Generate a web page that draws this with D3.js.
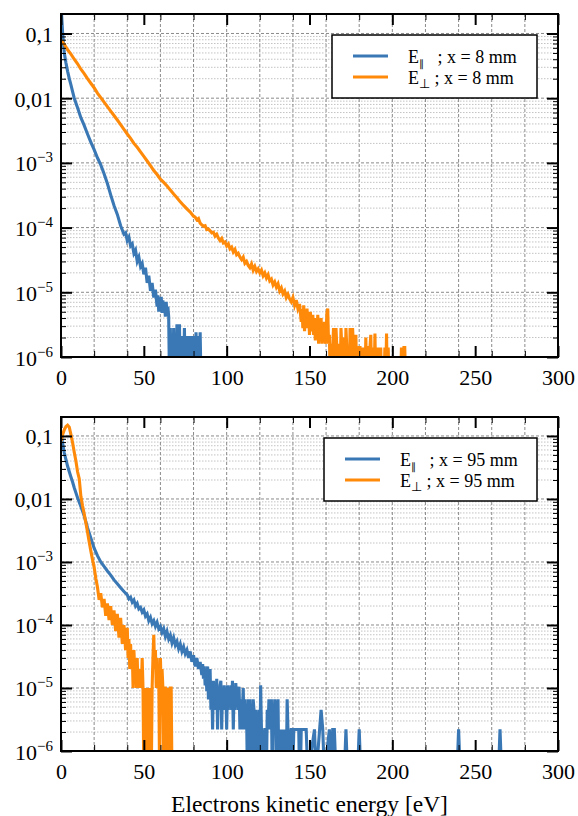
<!DOCTYPE html>
<html>
<head>
<meta charset="utf-8">
<script src="https://cdn.jsdelivr.net/npm/d3@7"></script>
<style>
  body { margin: 0; background: #fff; }
  svg text { font-family: "Liberation Serif", "Times New Roman", serif; fill: #000; }
</style>
</head>
<body>
<svg id="chart" width="578" height="816"></svg>
<script>
// ---- data ----
// energy bins [eV] and normalised distribution, x = 8 mm
const topParE = [0,1,2,3,4,5,6,7,8,10,12,14,16,18,20,22,24,26,28,30,32,34,36,38,
  39,40,41,42,43,44,45,46,47,48,49,50,51,52,53,54,55,56,57,
  58,58.5,59,59.5,60,60.5,61,61.5,62,62.5,63,63.5,64,64.5,65,65.5,66,66.5,67,67.5,68,68.5,69,69.5,
  70,70.5,71,71.5,72,72.5,73,73.5,74,74.5,75,75.5,76,76.5,77,77.5,78,78.5,79,79.5,
  80,80.5,81,81.5,82,82.5,83,83.5,84,84.5];
const topParV = [0.28,0.1,0.05,0.035,0.026,0.02,0.016,0.0126,0.01,0.0071,0.005,0.0038,0.0028,0.0021,0.0016,0.0012,9.3e-4,6.8e-4,4.8e-4,3.2e-4,2.2e-4,1.6e-4,1.07e-4,7.9e-5,
  8.3e-5,6.3e-5,7.1e-5,5.2e-5,5.6e-5,4.0e-5,4.5e-5,3.0e-5,3.5e-5,2.5e-5,2.8e-5,1.9e-5,2.4e-5,1.4e-5,1.8e-5,1.05e-5,1.4e-5,8.3e-6,1.1e-5,
  6.0e-6,9.0e-6,5.0e-6,8.0e-6,6.0e-6,8.5e-6,4.8e-6,7.5e-6,5.0e-6,6.3e-6,4.2e-6,7.1e-6,4.5e-6,6.0e-6,4.2e-6,0,2.8e-6,0,2.1e-6,0,2.8e-6,0,2.1e-6,0,
  3.2e-6,2.1e-6,0,3.2e-6,0,2.1e-6,0,2.1e-6,0,2.8e-6,0,2.1e-6,0,2.1e-6,0,2.1e-6,0,0,2.1e-6,0,
  2.1e-6,0,0,2.4e-6,0,2.1e-6,0,0,2.4e-6,0];

const topPerpE = [0,2,4,6,8,10,12,14,16,18,20,22,24,26,28,30,32,34,36,38,40,42,44,46,48,50,52,54,56,58,60,62,64,66,68,70,72,74,76,78,80,
  81,82,83,84,85,86,87,88,89,90,91,92,93,94,95,96,97,98,99,100,
  101,102,103,104,105,106,107,108,109,110,111,112,113,114,115,116,117,118,119,120,
  121,122,123,124,125,126,127,128,129,130,131,132,133,134,135,136,137,138,139,140,
  141,142,143,144,
  145,145.5,146,146.5,147,147.5,148,148.5,149,149.5,150,150.5,151,151.5,152,152.5,153,153.5,154,154.5,
  155,155.5,156,156.5,157,157.5,158,158.5,159,159.5,160,160.5,161,161.5,162,162.5,163,163.5,164,164.5,
  165,165.5,166,166.5,167,167.5,168,168.5,169,169.5,170,170.5,171,171.5,172,172.5,173,173.5,174,174.5,
  175,175.5,176,176.5,177,177.5,178,178.5,179,179.5,180,180.5,181,181.5,182,182.5,183,183.5,184,184.5,
  185,185.5,186,186.5,187,187.5,188,188.5,189,189.5,190,190.5,191,191.5,192,192.5,193,193.5,194,195,
  195.5,196,196.5,197,197.5,198,205,205.5,206,206.5,207,207.5,208];
const topPerpV = [0.079,0.068,0.056,0.048,0.040,0.034,0.028,0.024,0.020,0.017,0.0145,0.012,0.0102,0.0087,0.0074,0.0063,0.0054,0.0046,0.0039,0.0033,0.0028,0.0024,0.0020,0.00174,0.00148,0.00126,0.00107,9.1e-4,7.6e-4,6.6e-4,5.6e-4,5.0e-4,4.4e-4,3.8e-4,3.3e-4,2.9e-4,2.5e-4,2.2e-4,1.95e-4,1.74e-4,1.5e-4,
  1.45e-4,1.32e-4,1.38e-4,1.17e-4,1.1e-4,1.05e-4,1.07e-4,9.3e-5,9.5e-5,8.9e-5,8.3e-5,8.5e-5,7.4e-5,7.9e-5,6.9e-5,6.3e-5,6.8e-5,5.8e-5,6.0e-5,5.2e-5,
  5.6e-5,4.7e-5,5.0e-5,4.2e-5,4.6e-5,3.8e-5,4.0e-5,3.5e-5,3.2e-5,3.5e-5,2.8e-5,3.0e-5,2.6e-5,2.4e-5,2.75e-5,2.2e-5,2.5e-5,2.1e-5,2.3e-5,2.0e-5,
  2.2e-5,1.8e-5,2.0e-5,1.66e-5,1.86e-5,1.5e-5,1.6e-5,1.3e-5,1.45e-5,1.2e-5,1.35e-5,1.05e-5,1.17e-5,9.5e-6,1.05e-5,8.3e-6,9.3e-6,7.9e-6,7.1e-6,8.3e-6,
  6.3e-6,7.6e-6,5.6e-6,6.6e-6,
  3.5e-6,5.5e-6,2.8e-6,6.3e-6,2.5e-6,4.5e-6,2.8e-6,5.6e-6,3.2e-6,4.5e-6,2.2e-6,5.0e-6,3.2e-6,2.5e-6,4.5e-6,2.2e-6,4.0e-6,1.8e-6,3.5e-6,2.2e-6,
  4.5e-6,1.6e-6,3.2e-6,2.0e-6,4.0e-6,1.6e-6,2.8e-6,1.8e-6,3.5e-6,1.6e-6,2.2e-6,4.8e-6,5.6e-6,1.6e-6,2.2e-6,0,1.6e-6,0,1.4e-6,2.8e-6,
  0,1.4e-6,2.8e-6,1.4e-6,0,1.6e-6,1.4e-6,0,2.8e-6,1.4e-6,0,2.0e-6,1.4e-6,0,2.8e-6,1.4e-6,0,1.4e-6,0,2.8e-6,
  1.4e-6,0,2.8e-6,1.4e-6,0,1.4e-6,2.2e-6,0,1.4e-6,0,1.4e-6,1.4e-6,0,1.4e-6,0,1.4e-6,0,0,2.0e-6,0,
  1.4e-6,1.4e-6,0,1.4e-6,2.2e-6,0,0,1.4e-6,0,2.3e-6,0,1.4e-6,0,0,1.4e-6,0,1.4e-6,0,0,0,
  1.4e-6,0,2.3e-6,0,1.4e-6,0,0,1.4e-6,0,0,1.4e-6,1.4e-6,0];

// x = 95 mm
const botParE = [0,1,2,3,4,5,6,7,8,9,10,12,14,16,18,20,22,24,26,28,30,32,34,36,38,
  40,41,42,43,44,45,46,47,48,49,50,51,52,53,54,55,56,57,58,59,60,
  61,62,63,64,65,66,67,68,69,70,71,72,73,74,75,76,77,78,79,80,
  81,82,83,84,
  85,85.5,86,86.5,87,87.5,88,88.5,89,89.5,90,90.5,91,91.5,92,92.5,93,93.5,94,94.5,
  95,95.5,96,96.5,97,97.5,98,98.5,99,99.5,100,100.5,101,101.5,102,102.5,103,103.5,104,104.5,
  105,105.5,106,106.5,107,107.5,108,108.5,109,109.5,110,110.5,111,111.5,112,112.5,113,113.5,114,114.5,
  115,115.5,116,116.5,117,117.5,118,118.5,119,119.5,120,120.5,121,121.5,122,122.5,123,123.5,124,124.5,
  125,125.5,126,126.5,127,127.5,128,128.5,129,129.5,130,130.5,131,131.5,132,132.5,133,133.5,134,134.5,
  135,135.5,136,136.5,137,137.5,138,138.5,139,139.5,140,140.5,141,141.5,142,142.5,143,143.5,144,144.5,
  145,145.5,146,147,148,149,153,154,157,158,159,162,163,164,165,166,171,172,173,179,180,181,
  239,240,241,264,265,266];
const botParV = [0.112,0.076,0.054,0.042,0.033,0.027,0.0224,0.0186,0.0151,0.0126,0.0105,0.0076,0.0054,0.0035,0.0024,0.00166,0.00126,0.0010,8.5e-4,7.2e-4,6.2e-4,5.2e-4,4.5e-4,3.9e-4,3.4e-4,
  3.0e-4,2.6e-4,2.75e-4,2.3e-4,2.5e-4,2.0e-4,2.2e-4,1.8e-4,1.9e-4,1.6e-4,1.74e-4,1.38e-4,1.5e-4,1.17e-4,1.32e-4,1.05e-4,1.17e-4,9.5e-5,1.1e-4,8.7e-5,9.5e-5,
  7.6e-5,8.7e-5,6.6e-5,7.9e-5,6.0e-5,6.9e-5,5.2e-5,6.3e-5,4.8e-5,5.5e-5,4.2e-5,5.0e-5,3.8e-5,4.5e-5,3.5e-5,4.0e-5,3.0e-5,3.8e-5,2.6e-5,3.3e-5,
  2.2e-5,3.0e-5,2.0e-5,2.6e-5,
  1.6e-5,2.4e-5,1.4e-5,2.2e-5,1.1e-5,2.0e-5,8.9e-6,2.2e-5,6.6e-6,1.6e-5,2.0e-5,4.5e-6,1.1e-5,2.2e-6,1.3e-5,6.6e-6,1.1e-5,4.5e-6,1.4e-5,2.2e-6,
  1.0e-5,4.5e-6,1.1e-5,1.3e-5,2.2e-6,1.0e-5,4.5e-6,1.1e-5,6.6e-6,1.0e-5,2.2e-6,1.1e-5,4.5e-6,1.0e-5,6.6e-6,1.1e-5,4.5e-6,1.3e-5,2.2e-6,1.0e-5,
  4.5e-6,1.2e-5,6.6e-6,1.0e-5,4.5e-6,1.05e-5,2.2e-6,6.6e-6,2.2e-6,4.5e-6,1.0e-5,2.2e-6,6.6e-6,2.2e-6,4.5e-6,0,6.6e-6,0,6.6e-6,2.2e-6,
  4.5e-6,0,6.6e-6,4.5e-6,0,4.5e-6,2.2e-6,0,2.2e-6,4.5e-6,0,1.1e-5,2.2e-6,0,2.2e-6,0,2.2e-6,2.2e-6,0,4.5e-6,
  2.2e-6,6.6e-6,4.5e-6,2.2e-6,6.6e-6,0,4.5e-6,2.2e-6,6.6e-6,4.5e-6,0,2.2e-6,6.6e-6,0,2.2e-6,0,2.2e-6,0,0,2.2e-6,
  0,2.2e-6,0,6.6e-6,2.2e-6,0,2.2e-6,0,2.2e-6,2.2e-6,0,2.2e-6,2.2e-6,2.2e-6,2.2e-6,2.2e-6,2.2e-6,2.2e-6,0,0,
  2.2e-6,2.2e-6,2.2e-6,2.2e-6,2.2e-6,0,2.2e-6,0,4.5e-6,2.2e-6,0,2.2e-6,0,2.2e-6,2.2e-6,0,0,2.2e-6,0,0,2.2e-6,0,
  0,2.2e-6,0,0,2.2e-6,0];

const botPerpE = [0,1,2,3,4,5,6,7,8,9,10,11,12,13,14,15,16,17,18,19,20,
  21,22,23,24,25,26,27,28,29,30,31,32,33,34,35,36,37,38,39,40,
  40.5,41,41.5,42,42.5,43,43.5,44,44.5,45,45.5,46,46.5,47,47.5,48,48.5,49,49.5,50,
  50.5,51,51.5,52,52.5,53,53.5,54,54.5,55,55.5,56,56.5,57,57.5,58,58.5,59,59.5,60,
  60.5,61,61.5,62,62.5,63,63.5,64,64.5,65,65.5,66,66.5,67];
const botPerpV = [0.083,0.105,0.126,0.141,0.148,0.138,0.105,0.078,0.055,0.040,0.027,0.021,0.011,0.0078,0.0058,0.0042,0.0030,0.0021,0.0015,0.0011,8.3e-4,
  5.5e-4,4.0e-4,2.5e-4,3.2e-4,1.9e-4,2.6e-4,1.4e-4,2.2e-4,1.2e-4,2.0e-4,1.0e-4,1.7e-4,8e-5,1.5e-4,6.3e-5,1.3e-4,5e-5,1.0e-4,4e-5,9e-5,
  3e-5,6e-5,2e-5,5e-5,2e-5,4e-5,1e-5,4e-5,2e-5,3e-5,1e-5,3e-5,1e-5,2e-5,1e-5,2e-5,1e-5,3e-5,1e-5,0,
  1e-5,0,1e-5,0,1e-5,0,1e-5,0,0,1e-5,3e-5,7e-5,2e-5,4e-5,1e-5,3e-5,1e-5,2e-5,0,3e-5,
  1e-5,2e-5,1e-5,0,1e-5,1e-5,0,1e-5,0,1e-5,0,1e-5,1e-5,0];

const xTicks = [0, 50, 100, 150, 200, 250, 300];
const yTicks = [1e-6, 1e-5, 1e-4, 1e-3, 0.01, 0.1];
const yTickLabels = [["10", "\u22126"], ["10", "\u22125"], ["10", "\u22124"], ["10", "\u22123"], ["0,01", ""], ["0,1", ""]];
const legendSubs = ["\u2225", "\u22A5"];
const topLegend = [" ; x = 8 mm", " ; x = 8 mm"];
const botLegend = [" ; x = 95 mm", " ; x = 95 mm"];
const xTitle = "Electrons kinetic energy [eV]";

// ---- drawing ----
const svg = d3.select("#chart");
const colors = ["#3a78b5", "#ff8a0a"];
const left = 61, right = 558;

function drawPanel(top, bottom, series, legendText, lg) {
  const x = d3.scaleLinear().domain([0, 300]).range([left, right]);
  const y = d3.scaleLog().domain([1e-6, 0.2]).range([bottom, top]);
  const g = svg.append("g");
  const clipId = "clip" + top;
  svg.append("clipPath").attr("id", clipId)
    .append("rect").attr("x", left).attr("y", top)
    .attr("width", right - left).attr("height", bottom - top);

  const allY = y.ticks();
  const isMajor = v => Math.abs(Math.log10(v) - Math.round(Math.log10(v))) < 1e-9;
  const minorY = allY.filter(v => !isMajor(v));

  // grid
  g.append("g").selectAll("line").data(minorY).join("line")
    .attr("x1", left).attr("x2", right)
    .attr("y1", d => y(d)).attr("y2", d => y(d))
    .attr("stroke", "#b4b4b4").attr("stroke-width", 0.8).attr("stroke-dasharray", "1.5,1.5");
  g.append("g").selectAll("line").data(yTicks).join("line")
    .attr("x1", left).attr("x2", right)
    .attr("y1", d => y(d)).attr("y2", d => y(d))
    .attr("stroke", "#8a8a8a").attr("stroke-width", 1).attr("stroke-dasharray", "3,2");
  g.append("g").selectAll("line").data(x.ticks(12).filter(d => d > 0 && d < 300)).join("line")
    .attr("x1", d => x(d)).attr("x2", d => x(d))
    .attr("y1", top).attr("y2", bottom)
    .attr("stroke", "#8a8a8a").attr("stroke-width", 1).attr("stroke-dasharray", "3,2");

  // curves (empty bins drop below the frame)
  const line = d3.line()
    .x(d => x(d[0]))
    .y(d => d[1] > 0 ? y(d[1]) : bottom + 25);
  const lines = g.append("g").attr("clip-path", `url(#${clipId})`);
  series.forEach((s, i) => {
    lines.append("path")
      .datum(d3.zip(s[0], s[1]))
      .attr("d", line)
      .attr("fill", "none")
      .attr("stroke", colors[i])
      .attr("stroke-width", 3.1);
  });

  // axes with inward ticks
  const minorX = x.ticks(12).filter(d => d % 50 !== 0);
  const styleAxis = (a, w) => {
    a.select(".domain").remove();
    a.selectAll(".tick line").attr("stroke", "#000").attr("stroke-width", w);
    a.attr("font-family", null).attr("font-size", null);
  };
  const xb = g.append("g").attr("transform", `translate(0,${bottom})`)
    .call(d3.axisBottom(x).tickValues(xTicks).tickSize(-11).tickPadding(12).tickFormat(d3.format("d")));
  styleAxis(xb, 2);
  xb.selectAll("text").style("font-size", "22px");
  const xbm = g.append("g").attr("transform", `translate(0,${bottom})`)
    .call(d3.axisBottom(x).tickValues(minorX).tickSize(-6).tickFormat(""));
  styleAxis(xbm, 1);
  const xt = g.append("g").attr("transform", `translate(0,${top})`)
    .call(d3.axisTop(x).tickValues(xTicks).tickSize(-11).tickFormat(""));
  styleAxis(xt, 2);
  const xtm = g.append("g").attr("transform", `translate(0,${top})`)
    .call(d3.axisTop(x).tickValues(minorX).tickSize(-6).tickFormat(""));
  styleAxis(xtm, 1);

  const yl = g.append("g").attr("transform", `translate(${left},0)`)
    .call(d3.axisLeft(y).tickValues(yTicks).tickSize(-11).tickPadding(8).tickFormat(""));
  styleAxis(yl, 2);
  yl.selectAll(".tick text").each(function (d, i) {
    const t = d3.select(this).attr("dy", null).attr("y", 8).style("font-size", "22px");
    const lab = yTickLabels[i];
    t.append("tspan").text(lab[0]);
    if (lab[1]) t.append("tspan").attr("dy", -9).style("font-size", "15px").text(lab[1]);
  });
  const ylm = g.append("g").attr("transform", `translate(${left},0)`)
    .call(d3.axisLeft(y).tickValues(minorY).tickSize(-5).tickFormat(""));
  styleAxis(ylm, 1);
  const yr = g.append("g").attr("transform", `translate(${right},0)`)
    .call(d3.axisRight(y).tickValues(yTicks).tickSize(-11).tickFormat(""));
  styleAxis(yr, 2);
  const yrm = g.append("g").attr("transform", `translate(${right},0)`)
    .call(d3.axisRight(y).tickValues(minorY).tickSize(-5).tickFormat(""));
  styleAxis(yrm, 1);

  // frame
  g.append("rect").attr("x", left).attr("y", top)
    .attr("width", right - left).attr("height", bottom - top)
    .attr("fill", "none").attr("stroke", "#000").attr("stroke-width", 2);

  // legend
  const leg = g.append("g");
  leg.append("rect").attr("x", lg.x).attr("y", lg.y).attr("width", lg.w).attr("height", lg.h)
    .attr("fill", "#fff").attr("stroke", "#000").attr("stroke-width", 1.5);
  legendText.forEach((txt, i) => {
    const ly = lg.y + 21 + i * 21;
    leg.append("line").attr("x1", lg.lx).attr("x2", lg.lx + 35)
      .attr("y1", ly).attr("y2", ly)
      .attr("stroke", colors[i]).attr("stroke-width", 3);
    const t = leg.append("text").attr("x", lg.tx).attr("y", ly + 7).style("font-size", "18px");
    t.append("tspan").text("E");
    t.append("tspan").attr("dy", 4).style("font-size", i === 0 ? "10px" : "13px").text(legendSubs[i]);
    t.append("tspan").attr("dy", -4).text((i === 0 ? "\u2002" : "") + txt);
  });
}

drawPanel(14, 357, [[topParE, topParV], [topPerpE, topPerpV]], topLegend,
  { x: 332, y: 35, w: 205, h: 63, lx: 353, tx: 408 });
drawPanel(417, 751, [[botParE, botParV], [botPerpE, botPerpV]], botLegend,
  { x: 324, y: 438, w: 213, h: 63, lx: 345, tx: 400 });

svg.append("text")
  .attr("x", (left + right) / 2).attr("y", 812)
  .attr("text-anchor", "middle").style("font-size", "23.5px")
  .text(xTitle);
</script>
</body>
</html>
